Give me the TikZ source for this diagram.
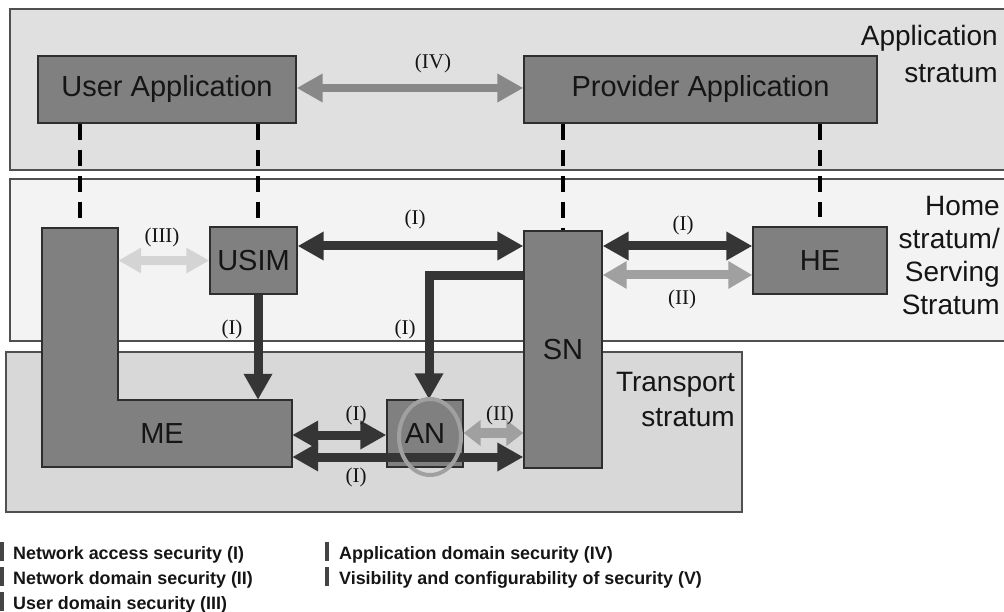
\documentclass[tikz,border=0pt]{standalone}
\usepackage{fontspec}
\setmainfont{Liberation Sans}
\newfontfamily\labserif{Liberation Serif}
\usetikzlibrary{arrows.meta}
\definecolor{appbg}{HTML}{E0E0E0}
\definecolor{homebg}{HTML}{F3F3F3}
\definecolor{trbg}{HTML}{D8D8D8}
\definecolor{boxfill}{HTML}{808080}
\definecolor{boxline}{HTML}{2E2E2E}
\definecolor{darkarr}{HTML}{353535}
\definecolor{midarr}{HTML}{888888}
\definecolor{nsarr}{HTML}{A0A0A0}
\definecolor{udarr}{HTML}{D4D4D4}
\definecolor{strline}{HTML}{505050}
\definecolor{txt}{HTML}{151515}
\definecolor{legbar}{HTML}{454545}
\begin{document}
\begin{tikzpicture}[x=1pt,y=-1pt,
  stratline/.style={line width=1.5pt, draw=strline},
  box/.style={draw=boxline, line width=1.3pt, fill=boxfill, inner sep=0pt, text=txt,
    font=\fontsize{29}{32}\selectfont},
  helper/.style={inner sep=0pt},
  stratlabel/.style={align=right, inner sep=0pt, text=txt},
  seclabel/.style={inner sep=0pt, text=txt, font=\labserif\fontsize{21}{24}\selectfont},
  legend/.style={inner sep=0pt, anchor=base west, text=txt, font=\bfseries\fontsize{17.9}{20}\selectfont},
  dashl/.style={line width=4pt, black, dash pattern=on 16pt off 10pt},
  arrd/.style={line width=9pt, darkarr, line join=miter, {Triangle[length=26pt,width=27pt]}-{Triangle[length=26pt,width=27pt]}},
  arrone/.style={line width=9pt, darkarr, line join=miter, -{Triangle[length=26pt,width=27pt]}},
  arrapp/.style={line width=8pt, midarr, {Triangle[length=26pt,width=27pt]}-{Triangle[length=26pt,width=27pt]}},
  arrnd/.style={line width=9pt, nsarr, {Triangle[length=24pt,width=26pt]}-{Triangle[length=24pt,width=26pt]}},
  arrnds/.style={line width=10pt, nsarr, {Triangle[length=17pt,width=25pt]}-{Triangle[length=17pt,width=25pt]}},
  arrud/.style={line width=9pt, udarr, {Triangle[length=23pt,width=24pt]}-{Triangle[length=23pt,width=24pt]}},
]
\useasboundingbox (0,0) rectangle (1004,612);

% strata
\fill[appbg] (10,9) rectangle (1012,170);
\draw[stratline] (1012,9) -- (10,9) -- (10,170) -- (1012,170);
\fill[homebg] (10,179) rectangle (1012,341);
\draw[stratline] (1012,179) -- (10,179) -- (10,341) -- (1012,341);
\filldraw[trbg, stratline] (6,352) rectangle (742,512);

\node[stratlabel, anchor=north east, font=\fontsize{28}{37}\selectfont] (applab) at (998,25) {Application\\stratum};
\node[stratlabel, anchor=north east, font=\fontsize{28}{33}\selectfont] (homelab) at (1000,196) {Home\\stratum/\\Serving\\Stratum};
\node[stratlabel, anchor=north east, font=\fontsize{28}{35}\selectfont] (trlab) at (735,372) {Transport\\stratum};

% application boxes
\node[box, minimum width=258pt, minimum height=67pt] (ua) at (167,89.5) {User Application};
\node[box, minimum width=353pt, minimum height=67pt] (pa) at (700.5,89.5) {Provider Application};

% helper positions
\node[helper, minimum width=76pt, minimum height=172pt] (mev) at (80,314) {};
\coordinate (usimx) at (258,0);
\coordinate (snan) at (429,276);
\coordinate (snx) at (563,231);
\coordinate (hex) at (820,217);

% ME (L shape)
\node[helper, minimum width=250pt, minimum height=67pt] (me) at (167,433.5) {};
\node[box, minimum width=87pt, minimum height=67pt] (usim) at (253.5,260.5) {USIM};

% dashed links
\draw[dashl] (ua.south -| mev.north) -- (mev.north);
\draw[dashl] (ua.south -| usimx) -- (usim.north -| usimx);
\draw[dashl] (pa.south -| snx) -- (snx);
\draw[dashl] (pa.south -| hex) -- (hex);

\draw[draw=boxline, line width=1.3pt, fill=boxfill] (42,228) -- (118,228) -- (118,400) -- (292,400) -- (292,467) -- (42,467) -- cycle;
\node[text=txt, font=\fontsize{29}{32}\selectfont] (melab) at (me.center) [xshift=-5pt] {ME};

\node[box, minimum width=134pt, minimum height=67pt] (he) at (820,260.5) {HE};
\node[box, minimum width=78pt, minimum height=237pt] (sn) at (563,349.5) {SN};
\node[box, minimum width=76pt, minimum height=67pt] (an) at (425,433.5) {AN};

% arrows
\draw[arrapp] (ua.east |- 0,88) -- (pa.west |- 0,88);
\draw[arrud] (usim.west -| mev.east) -- (usim.west);
\draw[arrd] (usim.east |- 0,246) -- (sn.west |- 0,246);
\draw[arrd] (sn.east |- 0,246) -- (he.west |- 0,246);
\draw[arrnd] (sn.east |- 0,275) -- (he.west |- 0,275);
\draw[arrone] (usim.south -| usimx) -- (me.north -| usimx);
\draw[arrone] (sn.west |- snan) -| (an.north -| snan);
\draw[arrd] (me.east |- 0,435) -- (an.west |- 0,435);
\draw[arrnds] (an.east |- 0,433) -- (sn.west |- 0,433);
\draw[arrd] (me.east |- 0,457) -- (sn.west |- 0,457);
\draw[nsarr, line width=4pt] (430,437) ellipse [x radius=31pt, y radius=38pt];

% security labels
\node[seclabel] (lIV) at (433,63) {(IV)};
\node[seclabel] (lIII) at (162,237) {(III)};
\node[seclabel] (lI1) at (415,219) {(I)};
\node[seclabel] (lI2) at (683,225) {(I)};
\node[seclabel] (lII1) at (682,299) {(II)};
\node[seclabel] (lI3) at (232,329) {(I)};
\node[seclabel] (lI4) at (405,329) {(I)};
\node[seclabel] (lI5) at (356,415) {(I)};
\node[seclabel] (lI6) at (356,477) {(I)};
\node[seclabel] (lII2) at (500,415) {(II)};

% legend
\node[legend] (leg1) at (0,559) {\textcolor{legbar}{\rule[-2pt]{4pt}{19pt}}\hspace{9pt}Network access security (I)};
\node[legend] (leg2) at (0,584) {\textcolor{legbar}{\rule[-2pt]{4pt}{19pt}}\hspace{9pt}Network domain security (II)};
\node[legend] (leg3) at (0,609) {\textcolor{legbar}{\rule[-2pt]{4pt}{19pt}}\hspace{9pt}User domain security (III)};
\node[legend] (leg4) at (325,559) {\textcolor{legbar}{\rule[-2pt]{4pt}{19pt}}\hspace{10pt}Application domain security (IV)};
\node[legend] (leg5) at (325,584) {\textcolor{legbar}{\rule[-2pt]{4pt}{19pt}}\hspace{10pt}Visibility and configurability of security (V)};
\end{tikzpicture}
\end{document}
